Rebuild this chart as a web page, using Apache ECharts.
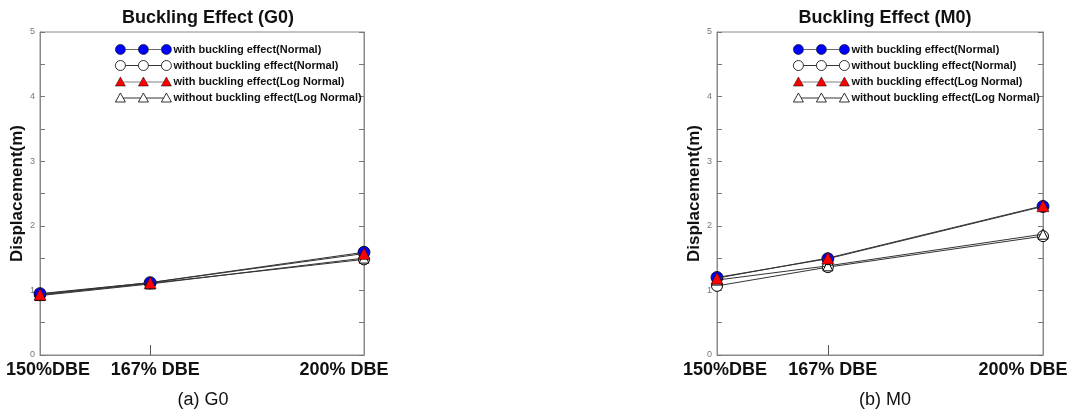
<!DOCTYPE html>
<html>
<head>
<meta charset="utf-8">
<script src="https://cdn.jsdelivr.net/npm/echarts@6/dist/echarts.min.js"></script>
<style>html,body{margin:0;padding:0;background:#fff}#c{width:1072px;height:414px}</style>
</head>
<body>
<div id="c"></div>
<script>
// ---- data ----
const xValues = [150, 167, 200];
const xLabels = ['150%DBE', '167% DBE', '200% DBE'];
const yTicks = [0, 1, 2, 3, 4, 5];
const seriesNames = [
  'with buckling effect(Normal)',
  'without buckling effect(Normal)',
  'with buckling effect(Log Normal)',
  'without buckling effect(Log Normal)'
];
// G0 panel
const g0WithNormal      = [0.95, 1.12, 1.59];
const g0WithoutNormal   = [0.93, 1.11, 1.48];
const g0WithLogNormal   = [0.94, 1.12, 1.57];
const g0WithoutLogNormal= [0.92, 1.10, 1.50];
// M0 panel
const m0WithNormal      = [1.20, 1.49, 2.30];
const m0WithoutNormal   = [1.07, 1.36, 1.84];
const m0WithLogNormal   = [1.19, 1.50, 2.31];
const m0WithoutLogNormal= [1.16, 1.38, 1.87];
const titles = ['Buckling Effect (G0)', 'Buckling Effect (M0)'];
const captions = ['(a) G0', '(b) M0'];

// ---- styles ----
const FONT = 'Liberation Sans, Arial, sans-serif';
const styles = [
  {symbol: 'circle', symbolSize: 12, itemStyle: {color: '#0000ff', borderColor: '#000', borderWidth: 0.8}},
  {symbol: 'circle', symbolSize: 11, itemStyle: {color: '#fff', borderColor: '#000', borderWidth: 1}},
  {symbol: 'triangle', symbolSize: 12, itemStyle: {color: '#ff0000', borderColor: '#000', borderWidth: 0.5}},
  {symbol: 'triangle', symbolSize: 10, itemStyle: {color: '#fff', borderColor: '#000', borderWidth: 1}}
];
// legend icons: three markers joined by a line
function circlesIcon() {
  let p = '';
  [0, 23, 46].forEach(o => {
    p += `M${o},5 A5,5 0 1,1 ${o + 10},5 A5,5 0 1,1 ${o},5 Z `;
  });
  p += 'M10,5 L23,5 M33,5 L46,5';
  return 'path://' + p;
}
function trianglesIcon() {
  let p = '';
  [0, 23, 46].forEach(o => {
    p += `M${o},10 L${o + 5},1 L${o + 10},10 Z `;
  });
  p += 'M8,6 L25,6 M31,6 L48,6';
  return 'path://' + p;
}
const legendIcons = [circlesIcon(), circlesIcon(), trianglesIcon(), trianglesIcon()];
const legendItemStyles = [
  {borderWidth: 0.6}, {borderWidth: 0.8}, {borderWidth: 0.5}, {borderWidth: 0.8}
];

const drawOrder = [1, 3, 0, 2];
const panels = [
  [g0WithNormal, g0WithoutNormal, g0WithLogNormal, g0WithoutLogNormal],
  [m0WithNormal, m0WithoutNormal, m0WithLogNormal, m0WithoutLogNormal]
];

const grids = [
  {left: 40, right: 708, top: 32, bottom: 59, show: true, borderColor: '#8a8a8a', borderWidth: 1},
  {left: 717, right: 29, top: 32, bottom: 59, show: true, borderColor: '#8a8a8a', borderWidth: 1}
];
const labelShift = {150: [0, 0, 0, 16], 167: [0, 0, 0, 10], 200: [0, 40, 0, 0]};

const xAxes = [], yAxes = [], series = [];
grids.forEach((g, gi) => {
  xAxes.push({
    type: 'value', gridIndex: gi, min: 150, max: 200,
    axisLine: {show: true, lineStyle: {color: '#8a8a8a'}},
    splitLine: {show: false},
    axisTick: {show: true, inside: true, length: 10, lineStyle: {color: '#555'}, customValues: [167]},
    axisLabel: {
      customValues: xValues, margin: 6,
      formatter: v => {
        const i = xValues.indexOf(v);
        return i < 0 ? '' : '{k' + v + '|' + xLabels[i] + '}';
      },
      rich: Object.fromEntries(xValues.map(v => ['k' + v, {
        fontFamily: FONT, fontWeight: 'bold', fontSize: 18, color: '#111', padding: labelShift[v]
      }]))
    }
  });
  yAxes.push({
    type: 'value', gridIndex: gi, min: 0, max: 5, interval: 1,
    name: 'Displacement(m)', nameLocation: 'middle', nameGap: 13,
    nameTextStyle: {fontFamily: FONT, fontWeight: 'bold', fontSize: 17, color: '#111'},
    axisLine: {show: true, lineStyle: {color: '#8a8a8a'}},
    splitLine: {show: false},
    axisTick: {show: true, inside: true, length: 5, lineStyle: {color: '#777'}},
    minorTick: {show: true, splitNumber: 2, length: 5, lineStyle: {color: '#777'}},
    axisLabel: {fontFamily: FONT, fontSize: 9, color: '#777', margin: 5,
      formatter: v => yTicks.includes(v) ? String(v) : ''}
  });
  yAxes.push({
    type: 'value', gridIndex: gi, position: 'right', min: 0, max: 5, interval: 1,
    axisLine: {show: true, lineStyle: {color: '#8a8a8a'}},
    splitLine: {show: false},
    axisTick: {show: true, inside: true, length: 5, lineStyle: {color: '#777'}},
    minorTick: {show: true, splitNumber: 2, length: 5, lineStyle: {color: '#777'}},
    axisLabel: {show: false}
  });
  drawOrder.forEach((si, k) => {
    const vals = panels[gi][si];
    series.push(Object.assign({
      type: 'line', name: seriesNames[si], xAxisIndex: gi, yAxisIndex: gi * 2,
      data: xValues.map((x, j) => [x, vals[j]]),
      lineStyle: {color: '#333', width: 1},
      emphasis: {disabled: true},
      animation: false, z: 2 + k
    }, JSON.parse(JSON.stringify(styles[si]))));
  });
});

const legendBase = {
  orient: 'vertical', top: 39, itemWidth: 56, itemHeight: 10, itemGap: 5,
  data: seriesNames.map((n, i) => ({name: n, icon: legendIcons[i], itemStyle: legendItemStyles[i]})),
  selectedMode: false,
  textStyle: {fontFamily: FONT, fontWeight: 'bold', fontSize: 11, color: '#111', padding: [0, 0, 0, -3]}
};

const chart = echarts.init(document.getElementById('c'), null, {renderer: 'canvas'});
chart.setOption({
  backgroundColor: '#fff',
  animation: false,
  title: [
    {text: titles[0], left: 203, top: 4, textAlign: 'center',
      textStyle: {fontFamily: FONT, fontWeight: 'bold', fontSize: 18, color: '#111'}},
    {text: titles[1], left: 880, top: 4, textAlign: 'center',
      textStyle: {fontFamily: FONT, fontWeight: 'bold', fontSize: 18, color: '#111'}},
    {text: captions[0], left: 198, top: 386, textAlign: 'center',
      textStyle: {fontFamily: FONT, fontWeight: 'normal', fontSize: 18, color: '#111'}},
    {text: captions[1], left: 880, top: 386, textAlign: 'center',
      textStyle: {fontFamily: FONT, fontWeight: 'normal', fontSize: 18, color: '#111'}}
  ],
  legend: [
    Object.assign({}, legendBase, {left: 110}),
    Object.assign({}, legendBase, {left: 788})
  ],
  grid: grids,
  xAxis: xAxes,
  yAxis: yAxes,
  series: series
});
</script>
</body>
</html>
